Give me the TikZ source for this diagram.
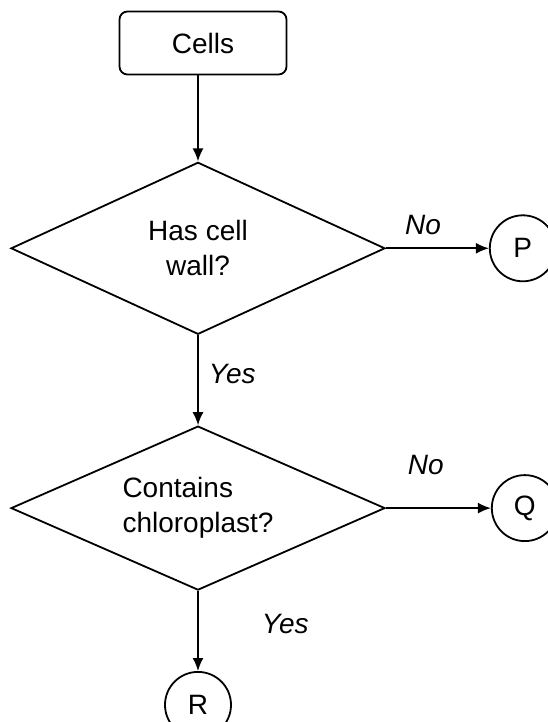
\documentclass[tikz,border=0pt]{standalone}
\usepackage{fontspec}
\setmainfont{Liberation Sans}
\usepackage{tikz}
\usetikzlibrary{arrows.meta,positioning,shapes.geometric}

\begin{document}
\begin{tikzpicture}[
  x=0.5pt,y=-0.5pt,
  node distance=43pt and 51.5pt,
  font=\fontsize{14pt}{17.5pt}\selectfont,
  startbox/.style={draw,line width=0.9pt,rounded corners=4pt,
    minimum width=83.5pt,minimum height=31.5pt},
  decision/.style={draw,diamond,line width=0.9pt,aspect=2.17,inner sep=0pt,
    minimum width=187pt,minimum height=86pt,align=center},
  endpoint/.style={draw,circle,line width=0.9pt,minimum size=33pt,inner sep=0pt},
  arrow/.style={-{Latex[length=6.5pt,width=5.5pt]},line width=0.9pt},
  lbl/.style={font=\fontsize{14pt}{17.5pt}\selectfont\itshape,inner sep=0pt}
]
\useasboundingbox (0,0) rectangle (547,722);
\node[startbox] (cells) at (203,43) {Cells};
\node[decision,below=43pt of cells,xshift=-2.5pt] (wall) {Has cell\\wall?};
\node[decision,align=left,below=45pt of wall,minimum height=82pt] (chloro) {Contains\\chloroplast?};
\node[endpoint,right=51.5pt of wall] (p) {P};
\node[endpoint,right=52.5pt of chloro] (q) {Q};
\node[endpoint,below=40pt of chloro] (r) {R};
\draw[arrow] (cells.south -| wall.north) -- (wall);
\draw[arrow] (wall) -- node[lbl,above=6.5pt,pos=0.36]{No} (p);
\draw[arrow] (wall) -- node[lbl,right=5pt,pos=0.43]{Yes} (chloro);
\draw[arrow] (chloro) -- node[lbl,above=16pt,pos=0.38]{No} (q);
\draw[arrow] (chloro) -- node[lbl,right=31.5pt,pos=0.41]{Yes} (r);
\end{tikzpicture}
\end{document}
